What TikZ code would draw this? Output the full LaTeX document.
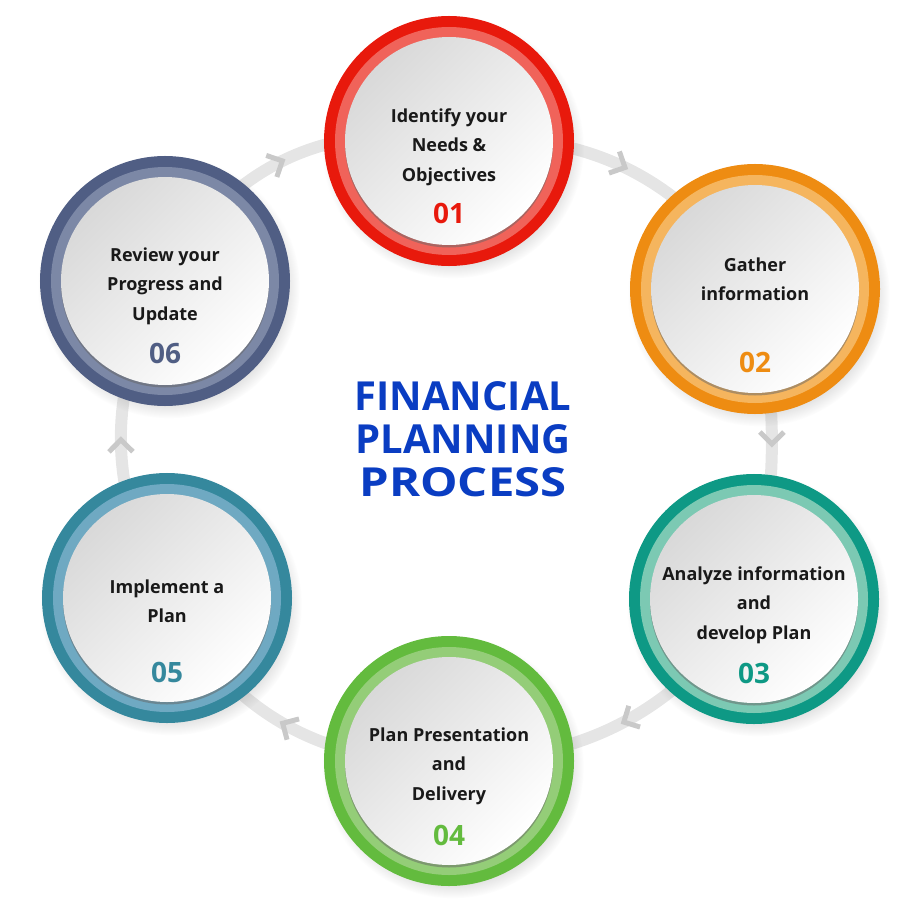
\documentclass[tikz,border=0pt]{standalone}
\usepackage{fontspec}
\setmainfont{Open Sans}
\usepackage{xcolor}
\usetikzlibrary{shadows,backgrounds,decorations.markings}

\definecolor{redD}{HTML}{E8190C}   \definecolor{redL}{HTML}{F0635A}
\definecolor{orgD}{HTML}{EE8C12}   \definecolor{orgL}{HTML}{F5B55E}
\definecolor{tealD}{HTML}{0E9985}  \definecolor{tealL}{HTML}{7CC9B3}
\definecolor{grnD}{HTML}{63BB3E}   \definecolor{grnL}{HTML}{94CD78}
\definecolor{bluD}{HTML}{35889D}   \definecolor{bluL}{HTML}{6FA9C2}
\definecolor{sltD}{HTML}{505E84}   \definecolor{sltL}{HTML}{7C88A6}
\definecolor{ttlblue}{HTML}{0A3DC2}

\begin{document}
\begin{tikzpicture}[x=1pt, y=1pt,
  stage/.style 2 args={circle, minimum size=208pt, inner sep=0pt,
    circular drop shadow={shadow scale=1.26, shadow xshift=3pt, shadow yshift=-5pt, opacity=.3},
    preaction={draw=#1, line width=42pt},
    preaction={draw=#2, line width=20pt},
    drop shadow={shadow xshift=0pt, shadow yshift=-2.5pt, opacity=.5, fill=black!60},
    top color=black!15, bottom color=white, shading angle=45},
  lbl/.style={align=center, font=\fontsize{18}{29.5}\selectfont\bfseries, text=black!90},
  num/.style={font=\fontsize{28}{30}\selectfont\bfseries},
  link/.style={draw=black!10, line width=12pt, postaction={decorate},
    decoration={markings, mark=at position .5 with
      {\draw[black!21, line width=5pt] (-12,12) -- (0,0) -- (-12,-12);}}}]
\useasboundingbox (0,0) rectangle (912,-904);

\node[stage={redD}{redL}]   (s1) at (449,-141) {};
\node[stage={orgD}{orgL}]   (s2) at (755,-289) {};
\node[stage={tealD}{tealL}] (s3) at (754,-599) {};
\node[stage={grnD}{grnL}]   (s4) at (449,-761) {};
\node[stage={bluD}{bluL}]   (s5) at (167,-598) {};
\node[stage={sltD}{sltL}]   (s6) at (165,-281) {};

\begin{scope}[on background layer]
  \draw[link] (s1.center) to[bend left=32] (s2.center);
  \draw[link] (s2.center) to[bend left=11] (s3.center);
  \draw[link] (s3.center) to[bend left=28] (s4.center);
  \draw[link] (s4.center) to[bend left=32] (s5.center);
  \draw[link] (s5.center) to[bend left=29] (s6.center);
  \draw[link] (s6.center) to[bend left=37] (s1.center);
\end{scope}

\node[lbl] (t1) at (449,-147) {Identify your\\Needs \&\\Objectives};
\node[lbl] (t2) at (755,-279) {Gather\\information};
\node[lbl] (t3) at (754,-605) {Analyze information\\and\\develop Plan};
\node[lbl] (t4) at (449,-766) {Plan Presentation\\and\\Delivery};
\node[lbl] (t5) at (167,-601) {Implement a\\Plan};
\node[lbl] (t6) at (165,-286) {Review your\\Progress and\\Update};

\node[num, text=redD]  (n1) at (449,-213) {01};
\node[num, text=orgD]  (n2) at (755,-362) {02};
\node[num, text=tealD] (n3) at (754,-673) {03};
\node[num, text=grnD]  (n4) at (449,-835) {04};
\node[num, text=bluD]  (n5) at (167,-672) {05};
\node[num, text=sltD]  (n6) at (165,-353) {06};

\node[align=center, text=ttlblue, font=\fontsize{40}{43}\selectfont\bfseries]
  (title) at (463,-439) {FINANCIAL\\PLANNING\\\scalebox{1.18}[1]{PROCESS}};
\end{tikzpicture}
\end{document}
